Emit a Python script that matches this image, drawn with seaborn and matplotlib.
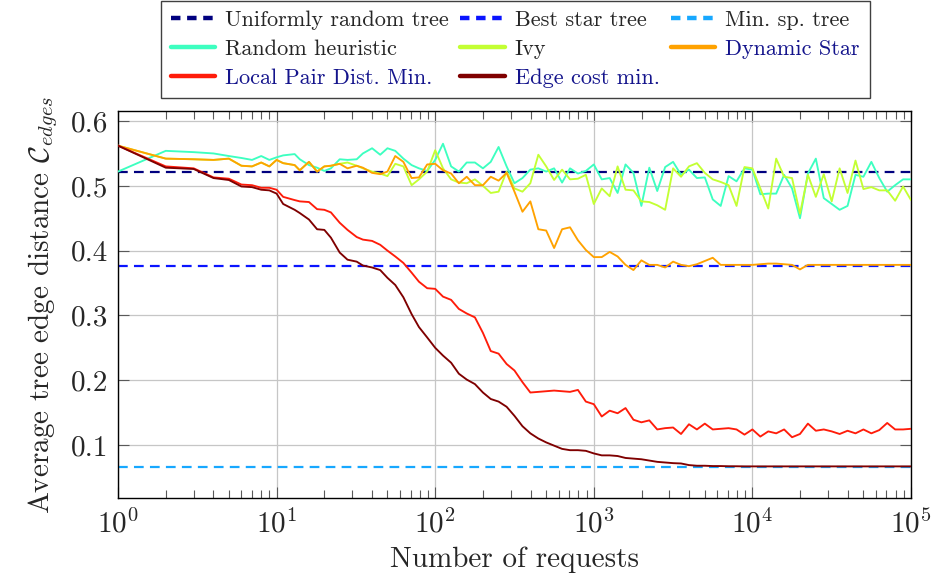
import matplotlib
matplotlib.use("Agg")
import matplotlib.pyplot as plt
import seaborn as sns
from matplotlib.lines import Line2D
from matplotlib.ticker import FixedLocator, FixedFormatter, LogLocator

# ---------------- data ----------------
requests = [1, 2, 3, 4, 5, 6, 7, 8, 9, 10,
            11, 13, 14, 16, 18, 20, 22, 25, 28, 32, 35, 40, 45, 50, 56, 63, 71, 79, 89,
            100, 112, 126, 141, 158, 178, 200, 224, 251, 282, 316, 355, 398, 447, 501, 562, 631, 708, 794, 891,
            1000, 1122, 1259, 1413, 1585, 1778, 1995, 2239, 2512, 2818, 3162, 3548, 3981, 4467, 5012, 5623, 6310, 7079, 7943, 8913,
            10000, 11220, 12589, 14125, 15849, 17783, 19953, 22387, 25119, 28184, 31623, 35481, 39811, 44668, 50119, 56234, 63096,
            70795, 79433, 89125, 100000]

uniform_random_tree = 0.522
best_star_tree = 0.377
min_sp_tree = 0.066

random_heuristic = [0.522, 0.554, 0.552, 0.550, 0.546, 0.543, 0.540, 0.546, 0.540, 0.544,
                    0.547, 0.549, 0.541, 0.532, 0.528, 0.523, 0.527, 0.541, 0.540, 0.541, 0.550, 0.558, 0.548, 0.558, 0.554, 0.542, 0.532, 0.527, 0.523,
                    0.540, 0.565, 0.530, 0.522, 0.536, 0.536, 0.527, 0.537, 0.560, 0.530, 0.504, 0.512, 0.525, 0.527, 0.522, 0.527, 0.505, 0.527, 0.519, 0.523,
                    0.533, 0.510, 0.512, 0.489, 0.533, 0.520, 0.469, 0.528, 0.492, 0.529, 0.537, 0.517, 0.525, 0.512, 0.513, 0.479, 0.469, 0.515, 0.507, 0.527,
                    0.525, 0.487, 0.488, 0.488, 0.517, 0.496, 0.450, 0.519, 0.542, 0.481, 0.472, 0.463, 0.469, 0.517, 0.514, 0.537, 0.512, 0.491, 0.501, 0.510, 0.510]

ivy = [0.562, 0.542, 0.541, 0.540, 0.542, 0.531, 0.530, 0.536, 0.530, 0.540,
       0.535, 0.532, 0.524, 0.537, 0.522, 0.530, 0.531, 0.534, 0.536, 0.531, 0.527, 0.522, 0.519, 0.515, 0.534, 0.530, 0.501, 0.510, 0.522,
       0.555, 0.527, 0.510, 0.505, 0.504, 0.510, 0.500, 0.489, 0.491, 0.522, 0.496, 0.491, 0.504, 0.548, 0.530, 0.509, 0.525, 0.510, 0.511, 0.517,
       0.472, 0.496, 0.484, 0.530, 0.494, 0.493, 0.476, 0.475, 0.470, 0.463, 0.527, 0.514, 0.530, 0.535, 0.520, 0.510, 0.506, 0.501, 0.469, 0.529,
       0.527, 0.496, 0.465, 0.542, 0.514, 0.512, 0.457, 0.517, 0.483, 0.518, 0.476, 0.527, 0.489, 0.539, 0.495, 0.498, 0.493, 0.493, 0.477, 0.499, 0.478]

dynamic_star = [0.562, 0.542, 0.541, 0.540, 0.542, 0.531, 0.530, 0.536, 0.530, 0.540,
                0.535, 0.532, 0.524, 0.537, 0.522, 0.530, 0.531, 0.534, 0.527, 0.531, 0.528, 0.520, 0.518, 0.522, 0.546, 0.537, 0.512, 0.513, 0.533,
                0.534, 0.524, 0.519, 0.504, 0.514, 0.501, 0.501, 0.514, 0.508, 0.520, 0.491, 0.460, 0.476, 0.433, 0.431, 0.404, 0.433, 0.436, 0.416, 0.401,
                0.390, 0.390, 0.398, 0.391, 0.378, 0.370, 0.385, 0.378, 0.378, 0.374, 0.383, 0.378, 0.376, 0.379, 0.384, 0.389, 0.378, 0.378, 0.378, 0.378,
                0.378, 0.379, 0.380, 0.380, 0.379, 0.378, 0.371, 0.378, 0.378, 0.378, 0.378, 0.378, 0.378, 0.378, 0.378, 0.378, 0.378, 0.378, 0.378, 0.378, 0.378]

local_pair_dist_min = [0.562, 0.530, 0.527, 0.513, 0.511, 0.502, 0.501, 0.497, 0.497, 0.494,
                       0.483, 0.478, 0.476, 0.475, 0.464, 0.463, 0.459, 0.443, 0.432, 0.421, 0.417, 0.415, 0.409, 0.400, 0.391, 0.381, 0.366, 0.352, 0.342,
                       0.341, 0.329, 0.324, 0.310, 0.303, 0.297, 0.273, 0.245, 0.241, 0.225, 0.215, 0.197, 0.181, 0.182, 0.183, 0.184, 0.183, 0.182, 0.185, 0.167,
                       0.163, 0.144, 0.153, 0.149, 0.157, 0.139, 0.135, 0.138, 0.124, 0.126, 0.127, 0.117, 0.132, 0.124, 0.133, 0.124, 0.125, 0.126, 0.124, 0.116,
                       0.124, 0.113, 0.121, 0.118, 0.124, 0.112, 0.117, 0.133, 0.122, 0.124, 0.121, 0.117, 0.122, 0.118, 0.124, 0.118, 0.123, 0.134, 0.124, 0.124, 0.125]

edge_cost_min = [0.562, 0.528, 0.526, 0.512, 0.509, 0.499, 0.498, 0.494, 0.493, 0.488,
                 0.472, 0.463, 0.458, 0.448, 0.433, 0.432, 0.420, 0.397, 0.386, 0.383, 0.377, 0.374, 0.370, 0.358, 0.347, 0.328, 0.302, 0.282, 0.266,
                 0.250, 0.238, 0.227, 0.210, 0.201, 0.194, 0.181, 0.171, 0.167, 0.159, 0.145, 0.129, 0.118, 0.110, 0.104, 0.099, 0.094, 0.092, 0.092, 0.091,
                 0.087, 0.084, 0.084, 0.083, 0.080, 0.079, 0.078, 0.076, 0.074, 0.073, 0.072, 0.0715, 0.069, 0.068, 0.068, 0.0675, 0.0675, 0.0672, 0.0672, 0.067,
                 0.067, 0.067, 0.067, 0.067, 0.067, 0.067, 0.067, 0.067, 0.067, 0.067, 0.067, 0.067, 0.067, 0.067, 0.067, 0.067, 0.067, 0.067, 0.067, 0.067, 0.067]

y_ticks = [0.1, 0.2, 0.3, 0.4, 0.5, 0.6]
y_tick_labels = ["0.1", "0.2", "0.3", "0.4", "0.5", "0.6"]

colors = {
    "Uniformly random tree": "#00007f",
    "Best star tree": "#0a14ff",
    "Min. sp. tree": "#17a8ff",
    "Random heuristic": "#3dffc0",
    "Ivy": "#c3ff33",
    "Dynamic Star": "#ffa200",
    "Local Pair Dist. Min.": "#ff1c0a",
    "Edge cost min.": "#7f0000",
}
blue_labels = ["Dynamic Star", "Local Pair Dist. Min.", "Edge cost min."]

# ---------------- style ----------------
sns.set_style("ticks")
plt.rcParams.update({
    "font.family": ["cmr10", "DejaVu Serif"],
    "mathtext.fontset": "cm",
    "axes.formatter.use_mathtext": True,
    "axes.unicode_minus": False,
    "lines.scale_dashes": False,
})

fig = plt.figure(figsize=(9.35, 5.8), dpi=100)
ax = fig.add_axes([118 / 935, 1 - 498 / 580, (911 - 118) / 935, (498 - 111) / 580])

DASH = (7.0, 4.5)
ax.axhline(uniform_random_tree, color=colors["Uniformly random tree"], lw=1.6, dashes=DASH, zorder=2)
ax.axhline(best_star_tree, color=colors["Best star tree"], lw=1.6, dashes=DASH, zorder=2)
ax.axhline(min_sp_tree, color=colors["Min. sp. tree"], lw=1.6, dashes=DASH, zorder=2)

series = [("Random heuristic", random_heuristic), ("Ivy", ivy), ("Dynamic Star", dynamic_star),
          ("Local Pair Dist. Min.", local_pair_dist_min), ("Edge cost min.", edge_cost_min)]
for name, vals in series:
    sns.lineplot(x=requests, y=vals, ax=ax, color=colors[name], lw=1.35, errorbar=None,
                 legend=False, zorder=3)

ax.set_xscale("log")
ax.set_xlim(1, 1e5)
ax.set_ylim(0.0182, 0.6155)
ax.yaxis.set_major_locator(FixedLocator(y_ticks))
ax.yaxis.set_major_formatter(FixedFormatter(y_tick_labels))
ax.xaxis.set_major_locator(LogLocator(base=10, numticks=10))
ax.xaxis.set_minor_locator(LogLocator(base=10, subs=range(2, 10), numticks=20))

ax.grid(True, which="major", color="#c6c6c6", lw=0.9, zorder=0)
ax.tick_params(which="both", direction="in", top=True, right=True, color="0.35", width=0.8)
ax.tick_params(which="major", length=8, labelsize=21)
ax.tick_params(which="minor", length=5.5)
ax.tick_params(axis="x", which="major", pad=8)
ax.tick_params(axis="y", which="major", pad=7)
for sp in ax.spines.values():
    sp.set_color("black")
    sp.set_linewidth(1.0)

ax.set_xlabel("Number of requests", fontsize=21, labelpad=6)
ax.set_ylabel(r"Average tree edge distance $\mathcal{C}_{edges}$", fontsize=21, labelpad=8)

# ---------------- legend ----------------
def handle(name, dashed):
    if dashed:
        return Line2D([], [], color=colors[name], lw=3.2, dashes=(6.8, 4.8))
    return Line2D([], [], color=colors[name], lw=3.2)

order = [("Uniformly random tree", True), ("Random heuristic", False), ("Local Pair Dist. Min.", False),
         ("Best star tree", True), ("Ivy", False), ("Edge cost min.", False),
         ("Min. sp. tree", True), ("Dynamic Star", False)]
handles = [handle(n, d) for n, d in order]
labels = [n for n, _ in order]
leg = fig.legend(handles, labels, ncol=3, loc="upper center", bbox_to_anchor=(0.551, 0.999),
                 fontsize=16, frameon=True, fancybox=False, edgecolor="0.25", framealpha=1,
                 handlelength=2.0, handletextpad=0.45, columnspacing=0.5, labelspacing=0.42,
                 borderpad=0.45, borderaxespad=0)
leg.get_frame().set_linewidth(1.0)
for t in leg.get_texts():
    if t.get_text() in blue_labels:
        t.set_color("#14148c")

fig.savefig("out.png", dpi=100)
